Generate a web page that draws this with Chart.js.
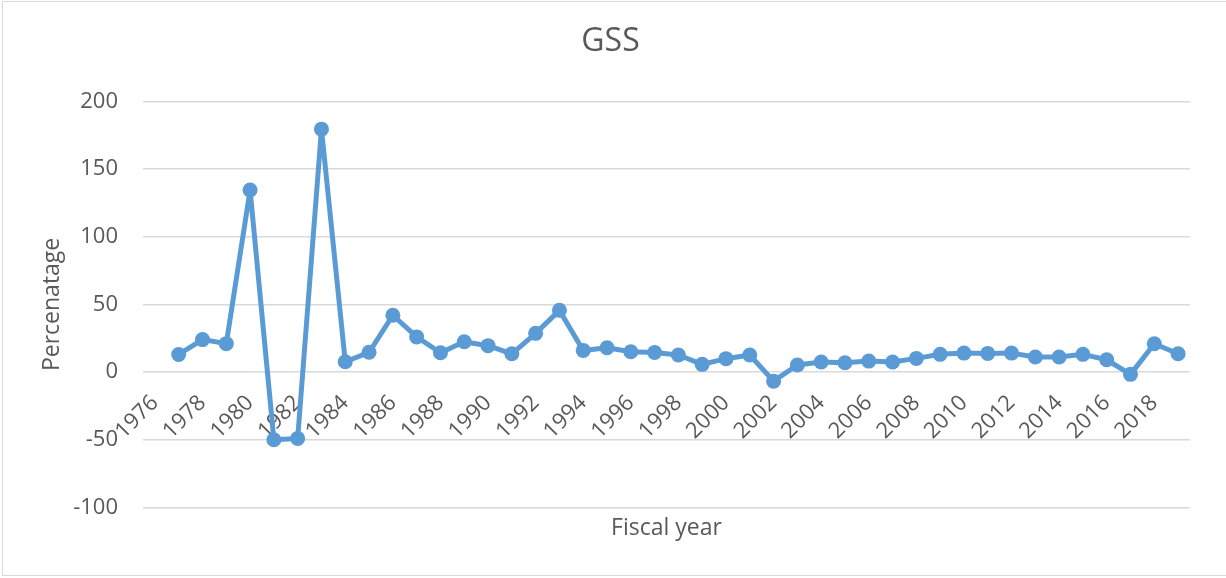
<!DOCTYPE html>
<html>
<head>
<meta charset="utf-8">
<script src="https://cdn.jsdelivr.net/npm/chart.js@4"></script>
<style>
  html, body { margin: 0; padding: 0; background: #fff; }
  .chart-box { position: relative; width: 1226px; height: 578px; }
  .chart-frame {
    position: absolute; left: 2px; top: 1px; width: 1230px; height: 575px;
    border: 1px solid #d9d9d9; box-sizing: border-box; pointer-events: none;
  }
</style>
</head>
<body>
<div class="chart-box">
  <canvas id="gss"></canvas>
  <div class="chart-frame"></div>
</div>
<script>
// fiscal years on the category axis (1976 has no value)
const years = [
  1976, 1977, 1978, 1979, 1980, 1981, 1982, 1983, 1984, 1985, 1986,
  1987, 1988, 1989, 1990, 1991, 1992, 1993, 1994, 1995, 1996, 1997,
  1998, 1999, 2000, 2001, 2002, 2003, 2004, 2005, 2006, 2007, 2008,
  2009, 2010, 2011, 2012, 2013, 2014, 2015, 2016, 2017, 2018, 2019,
];

// GSS growth, percent
const gssValues = [
  null, 13, 24, 21, 134.5, -50, -49, 179.5, 7.6, 14.6, 42,
  26, 14.3, 22.4, 19.5, 13.5, 28.6, 45.6, 16, 18, 15, 14.5,
  12.6, 5.7, 9.9, 12.6, -6.7, 5.2, 7.4, 6.9, 8.1, 7.4, 10.1,
  13.1, 14, 13.8, 14, 11.1, 11.1, 13.1, 9.1, -1.7, 20.9, 13.5,
];

const textColor = '#595959';
const gridColor = '#d9d9d9';
const lineColor = '#5b9bd5';
const family = '"Open Sans", sans-serif';

new Chart(document.getElementById('gss'), {
  type: 'line',
  data: {
    labels: years.map(String),
    datasets: [{
      label: 'GSS',
      data: gssValues,
      borderColor: lineColor,
      backgroundColor: lineColor,
      borderWidth: 5,
      borderJoinStyle: 'round',
      pointRadius: 7.5,
      pointBorderWidth: 0,
      pointBackgroundColor: lineColor,
      tension: 0,
    }],
  },
  options: {
    responsive: true,
    maintainAspectRatio: false,
    animation: false,
    layout: { padding: { left: 31, right: 36, top: 0, bottom: 0 } },
    plugins: {
      legend: { display: false },
      tooltip: { enabled: false },
      title: {
        display: true,
        text: 'GSS',
        color: textColor,
        font: { family, size: 32, weight: 'normal' },
        padding: { top: 23, bottom: 40 },
      },
      subtitle: {
        display: true,
        position: 'bottom',
        fullSize: false,
        text: 'Fiscal year',
        color: textColor,
        font: { family, size: 23, weight: 'normal' },
        padding: { top: 7, bottom: 36 },
      },
    },
    scales: {
      x: {
        type: 'category',
        position: { y: 0 },
        offset: true,
        grid: { display: false },
        border: { display: false },
        ticks: {
          color: textColor,
          font: { family, size: 22 },
          autoSkip: false,
          minRotation: 45,
          maxRotation: 45,
          padding: 10,
          callback: function (value, index) {
            return index % 2 === 0 ? this.getLabelForValue(value) : '';
          },
        },
        // rotated year labels may hang past the left edge, like the -50 label they overlap
        afterFit: (scale) => {
          scale.paddingLeft = 0;
          scale.paddingRight = 0;
        },
      },
      y: {
        min: -100,
        max: 200,
        grid: { color: gridColor, lineWidth: 1.5, drawTicks: false },
        border: { display: false },
        ticks: {
          stepSize: 50,
          color: textColor,
          font: { family, size: 22 },
          padding: 25,
        },
        title: {
          display: true,
          text: 'Percenatage',
          color: textColor,
          font: { family, size: 23, weight: 'normal' },
          padding: { top: 8, bottom: 3 },
        },
        // fixed width for the value axis so the plot starts at the same spot
        afterFit: (scale) => {
          scale.width = 112;
        },
      },
    },
  },
});
</script>
</body>
</html>
